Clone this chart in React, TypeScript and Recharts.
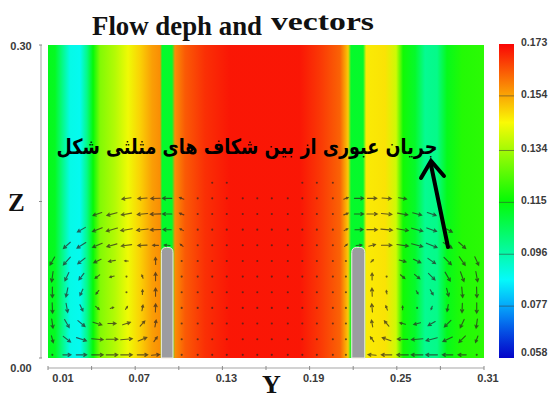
import React from 'react';
import {
  ScatterChart,
  Scatter,
  XAxis,
  YAxis,
  ReferenceArea,
  ReferenceLine,
  ComposedChart,
  Line,
} from 'recharts';

// ---------- axes ----------
const xTicks = [0.01, 0.04, 0.07, 0.1, 0.13, 0.16, 0.19, 0.22, 0.25, 0.28, 0.31];
const xTickLabels = [0.01, 0.07, 0.13, 0.19, 0.25, 0.31];
const zTicks = [0, 0.15, 0.3];
const zTickLabels = [0, 0.3];
const colorbarTicks = [0.058, 0.077, 0.096, 0.115, 0.134, 0.154, 0.173];

// ---------- flow depth profile across the channel (Y -> depth) ----------
const depthY = [
  0.01, 0.0148, 0.0196, 0.0251, 0.032, 0.0368, 0.041, 0.0458, 0.0561, 0.0651, 0.0733,
  0.0816, 0.0871, 0.0885, 0.0953, 0.0974, 0.1043, 0.1181, 0.1353, 0.1834, 0.1972,
  0.211, 0.2165, 0.2185, 0.2268, 0.2289, 0.2419, 0.2495, 0.2543, 0.2626, 0.2695,
  0.2777, 0.2846, 0.2949, 0.31,
];
const depthValue = [
  0.113, 0.112, 0.101, 0.089, 0.088, 0.1, 0.115, 0.13, 0.136, 0.143, 0.149,
  0.155, 0.157, 0.111, 0.111, 0.157, 0.163, 0.168, 0.171, 0.171, 0.167,
  0.162, 0.15, 0.111, 0.111, 0.146, 0.147, 0.139, 0.117, 0.111, 0.099,
  0.1, 0.113, 0.119, 0.12,
];

// ---------- obstacles ----------
const obstacleLeftY = [0.088, 0.096];
const obstacleRightY = [0.219, 0.228];
const obstacleTopZ = 0.106;

// ---------- velocity vectors: [angle deg (0 = +Y, 90 = +Z), magnitude] ----------
type Cell = [number, number] | 0;
const vectorRowsZ = [0.168, 0.153, 0.138, 0.123, 0.108, 0.093, 0.078, 0.063, 0.048, 0.033, 0.018, 0.003];

const leftColsY = [0.013, 0.023, 0.033, 0.044, 0.054, 0.064, 0.075, 0.084];
const leftVortex: Cell[][] = [
  [0, 0, 0, 0, 0, 0, 0, 0],
  [0, 0, 0, 0, 0, [188, 8], [185, 8], [182, 8]],
  [0, 0, 0, [200, 8], [195, 9], [190, 9], [186, 9], [182, 9]],
  [0, 0, [210, 8], [202, 9], [196, 10], [190, 10], [186, 10], [182, 9]],
  [0, [222, 8], [212, 9], [203, 9], [196, 9], [188, 9], [183, 8], [178, 5]],
  [[240, 8], [228, 9], [218, 8], [205, 7], [190, 6], [178, 3], 0, [92, 6]],
  [[262, 9], [245, 8], [232, 7], [218, 5], [195, 4], [160, 2], [110, 3], [90, 7]],
  [[270, 9], [258, 8], [245, 6], [232, 4], 0, [60, 2], [88, 4], [90, 7]],
  [[272, 9], [280, 8], [295, 6], [320, 4], [20, 3], [55, 3], [80, 5], [88, 7]],
  [[278, 8], [300, 8], [320, 8], [342, 8], [0, 7], [18, 7], [48, 6], [80, 6]],
  [[285, 6], [322, 8], [342, 9], [355, 10], [0, 10], [5, 10], [22, 8], [55, 5]],
  [[0, 2], [0, 7], [0, 9], [0, 10], [0, 10], [0, 10], [0, 9], [5, 7]],
];

const midColsY = [0.092, 0.102, 0.113, 0.123, 0.133, 0.144, 0.154, 0.164, 0.175, 0.185, 0.195, 0.206, 0.215, 0.224];
const midField: Cell[][] = [
  [0, 0, 0, [270, 1.2], [270, 1.2], 0, 0, 0, 0, [270, 1.2], [270, 1.2], [270, 1.2], 0, 0],
  [[180, 8], [160, 4], [170, 2.5], [200, 1.5], [270, 1.3], [270, 1.3], [270, 1.2], [270, 1.2], [270, 1.3], [270, 1.3], [340, 1.5], [10, 2.5], [20, 4], [0, 8]],
  [[180, 8], [158, 4], [168, 2.5], [200, 1.5], [270, 1.3], [270, 1.3], [270, 1.3], [270, 1.3], [270, 1.3], [270, 1.3], [340, 1.5], [12, 2.5], [22, 4], [0, 8]],
  [[178, 7], [152, 3.5], [200, 1.5], [270, 1.5], [270, 1.3], [270, 1.3], [270, 1.3], [270, 1.3], [270, 1.3], [270, 1.3], [270, 1.5], [340, 1.5], [28, 3.5], [2, 7]],
  [[175, 5], [140, 3], [270, 1.5], [270, 1.5], [270, 1.3], [270, 1.3], [270, 1.3], [270, 1.3], [270, 1.3], [270, 1.3], [270, 1.5], [270, 1.5], [40, 3], [5, 5]],
  [0, [110, 2], [270, 1.5], [270, 1.4], [270, 1.3], [270, 1.3], [270, 1.3], [270, 1.3], [270, 1.3], [270, 1.3], [270, 1.4], [270, 1.5], [70, 2], 0],
  [0, [90, 1.8], [270, 1.4], [270, 1.4], [270, 1.3], [270, 1.3], [270, 1.2], [270, 1.2], [270, 1.3], [270, 1.3], [270, 1.4], [270, 1.4], [90, 1.8], 0],
  [0, [90, 1.6], [270, 1.3], [270, 1.3], [270, 1.3], [270, 1.2], [270, 1.2], [270, 1.2], [270, 1.2], [270, 1.3], [270, 1.3], [270, 1.3], [90, 1.6], 0],
  [0, [90, 1.4], [270, 1.2], [270, 1.2], [270, 1.2], [270, 1.2], [270, 1.2], [270, 1.2], [270, 1.2], [270, 1.2], [270, 1.2], [270, 1.2], [90, 1.4], 0],
  [0, [90, 1.2], [270, 1.1], [270, 1.1], [270, 1.1], [270, 1.1], [270, 1.1], [270, 1.1], [270, 1.1], [270, 1.1], [270, 1.1], [270, 1.1], [90, 1.2], 0],
  [0, [90, 1.2], [270, 1.1], [270, 1.1], [270, 1.1], [270, 1.1], [270, 1.1], [270, 1.1], [270, 1.1], [270, 1.1], [270, 1.1], [270, 1.1], [90, 1.2], 0],
  [0, [0, 1.1], [0, 1], [0, 1], [0, 1], [0, 1], [0, 1], [0, 1], [0, 1], [0, 1], [0, 1], [0, 1], [0, 1.1], 0],
];

const rightColsY = [0.233, 0.243, 0.254, 0.264, 0.274, 0.285, 0.295, 0.305];
const rightVortex: Cell[][] = [
  [0, 0, 0, 0, 0, 0, 0, 0],
  [[0, 8], [355, 8], [350, 7], 0, 0, 0, 0, 0],
  [[0, 9], [355, 9], [350, 9], [345, 8], [340, 8], 0, 0, 0],
  [[0, 9], [355, 10], [350, 10], [345, 10], [340, 9], [332, 9], 0, 0],
  [[15, 6], [0, 9], [352, 10], [345, 10], [338, 10], [328, 9], [318, 8], 0],
  [[45, 3], 0, [345, 6], [335, 7], [325, 8], [315, 9], [305, 9], [295, 8]],
  [[90, 6], [30, 2], [320, 5], [320, 6], [315, 8], [300, 9], [290, 9], [280, 9]],
  [[92, 7], [100, 3], 0, [300, 3], [300, 5], [285, 7], [275, 9], [272, 9]],
  [[95, 7], [110, 4], [90, 3], [240, 2], [250, 3], [260, 6], [268, 8], [270, 9]],
  [[100, 6], [130, 6], [165, 5], [195, 6], [210, 7], [225, 8], [245, 8], [262, 8]],
  [[125, 5], [160, 8], [178, 9], [185, 10], [195, 10], [205, 9], [225, 8], [250, 6]],
  [[175, 7], [180, 9], [180, 10], [180, 10], [180, 10], [180, 9], [180, 7], [180, 2]],
];

// ---------- helpers ----------
const DEPTH_MIN = colorbarTicks[0];
const DEPTH_MAX = colorbarTicks[colorbarTicks.length - 1];

function colorOf(v: number) {
  const t = Math.max(0, Math.min(1, (v - DEPTH_MIN) / (DEPTH_MAX - DEPTH_MIN)));
  const h = 240 * (1 - t);
  const l = t < 0.15 ? 40 + t * 66 : 50;
  return `hsl(${h.toFixed(1)}, 96%, ${l.toFixed(1)}%)`;
}

function buildVectors(cols: number[], rows: Cell[][]) {
  const out: { y: number; z: number; a: number; m: number }[] = [];
  rows.forEach((row, i) =>
    row.forEach((cell, j) => {
      if (cell) out.push({ y: cols[j], z: vectorRowsZ[i], a: cell[0], m: cell[1] });
    })
  );
  return out;
}

const vectors = [
  ...buildVectors(leftColsY, leftVortex),
  ...buildVectors(midColsY, midField),
  ...buildVectors(rightColsY, rightVortex),
];

const ARROW_SCALE = 1.15;
const ARROW_COLOR = '#2b2320';

const VectorArrow = (props: any) => {
  const { cx, cy, payload } = props;
  if (cx == null || cy == null || !payload) return <g />;
  const len = payload.m * ARROW_SCALE;
  const rad = (payload.a * Math.PI) / 180;
  const dx = Math.cos(rad) * len;
  const dy = -Math.sin(rad) * len;
  if (len < 3) {
    return <circle cx={cx} cy={cy} r={1.05} fill={ARROW_COLOR} fillOpacity={0.7} />;
  }
  const x1 = cx - dx / 2;
  const y1 = cy - dy / 2;
  const x2 = cx + dx / 2;
  const y2 = cy + dy / 2;
  const th = Math.atan2(dy, dx) + Math.PI;
  const h = Math.min(3.2, len * 0.4);
  const a1x = x2 + Math.cos(th - 0.5) * h;
  const a1y = y2 + Math.sin(th - 0.5) * h;
  const a2x = x2 + Math.cos(th + 0.5) * h;
  const a2y = y2 + Math.sin(th + 0.5) * h;
  return (
    <path
      d={`M${x1},${y1}L${x2},${y2}M${a1x},${a1y}L${x2},${y2}L${a2x},${a2y}`}
      stroke={ARROW_COLOR}
      strokeOpacity={0.72}
      strokeWidth={1.1}
      fill="none"
      strokeLinecap="round"
    />
  );
};

const ObstacleShape = (p: any) => {
  const { x, y, width, height } = p;
  if (x == null) return <g />;
  const r = Math.min(5, width / 2);
  const d = `M${x},${y + height}L${x},${y + r}Q${x},${y} ${x + r},${y}L${x + width - r},${y}Q${x + width},${y} ${x + width},${y + r}L${x + width},${y + height}Z`;
  return <path d={d} fill="#9c9ca0" stroke="#f3ece0" strokeWidth={1} />;
};

const near = (a: number, b: number) => Math.abs(a - b) < 1e-6;

const XTick = (p: any) => {
  const v = p.payload?.value;
  if (!xTickLabels.some((t) => near(t, v))) return <g />;
  const shift = near(v, xTickLabels[0]) ? 15 : 4;
  return (
    <text
      x={p.x + shift}
      y={382}
      textAnchor="middle"
      fontFamily="'Liberation Sans', Arial, sans-serif"
      fontWeight="bold"
      fontSize={11}
      fill="#3a3a3a"
    >
      {v.toFixed(2)}
    </text>
  );
};

const ZTick = (p: any) => {
  const v = p.payload?.value;
  if (!zTickLabels.some((t) => near(t, v))) return <g />;
  const yy = near(v, 0) ? p.y + 10 : p.y + 1;
  return (
    <text
      x={21}
      y={yy + 4}
      textAnchor="middle"
      fontFamily="'Liberation Sans', Arial, sans-serif"
      fontWeight="bold"
      fontSize={11}
      fill="#3a3a3a"
    >
      {v.toFixed(2)}
    </text>
  );
};

const CbTick = (p: any) => {
  const v = p.payload?.value;
  const last = near(v, colorbarTicks[0]);
  return (
    <text
      x={p.x}
      y={p.y + 3 + (last ? -5 : -1)}
      textAnchor="start"
      fontFamily="'Liberation Sans', Arial, sans-serif"
      fontWeight="bold"
      fontSize={10.5}
      fill="#3a3a3a"
    >
      {v.toFixed(3)}
    </text>
  );
};

const colorbarData = colorbarTicks.map((v) => ({ x: 0.5, v }));
const colorbarStops = Array.from({ length: 25 }, (_, i) => i / 24);

export default function App() {
  return (
    <div
      style={{
        position: 'absolute',
        left: 0,
        top: 0,
        width: 554,
        height: 398,
        background: '#ffffff',
        overflow: 'hidden',
      }}
    >
      <div style={{ position: 'absolute', left: 0, top: 0 }}>
        <ScatterChart width={554} height={398} margin={{ top: 45, right: 70, bottom: 10, left: 8 }}>
          <defs>
            <linearGradient id="fieldGrad" x1="0" y1="0" x2="1" y2="0">
              {depthY.map((y, i) => (
                <stop key={i} offset={(y - 0.01) / 0.3} stopColor={colorOf(depthValue[i])} />
              ))}
            </linearGradient>
          </defs>
          <XAxis
            type="number"
            dataKey="y"
            domain={[0.01, 0.31]}
            ticks={xTicks}
            interval={0}
            allowDataOverflow
            height={30}
            tickSize={4}
            axisLine={{ stroke: '#a5a5a5', transform: 'translate(0,10)' }}
            tickLine={{ stroke: '#8a8a8a', transform: 'translate(0,8)' }}
            tick={(p: any) => <XTick {...p} />}
          />
          <YAxis
            type="number"
            dataKey="z"
            domain={[0, 0.3]}
            ticks={zTicks}
            interval={0}
            allowDataOverflow
            width={40}
            tickSize={3}
            axisLine={{ stroke: '#a5a5a5', transform: 'translate(-7,0)' }}
            tickLine={{ stroke: '#8a8a8a', transform: 'translate(-6,0)' }}
            tick={(p: any) => <ZTick {...p} />}
          />
          <ReferenceArea
            x1={0.01}
            x2={0.31}
            y1={0}
            y2={0.3}
            fill="url(#fieldGrad)"
            fillOpacity={1}
            stroke="none"
            ifOverflow="visible"
          />
          <ReferenceArea
            x1={obstacleLeftY[0]}
            x2={obstacleLeftY[1]}
            y1={0}
            y2={obstacleTopZ}
            shape={ObstacleShape}
            ifOverflow="visible"
          />
          <ReferenceArea
            x1={obstacleRightY[0]}
            x2={obstacleRightY[1]}
            y1={0}
            y2={obstacleTopZ}
            shape={ObstacleShape}
            ifOverflow="visible"
          />
          <Scatter data={vectors} shape={VectorArrow} isAnimationActive={false} />
        </ScatterChart>
      </div>

      <div style={{ position: 'absolute', left: 474, top: 0 }}>
        <ComposedChart width={80} height={398} data={colorbarData} margin={{ top: 44, right: 0, bottom: 40, left: 25 }}>
          <defs>
            <linearGradient id="cbGrad" x1="0" y1="1" x2="0" y2="0">
              {colorbarStops.map((t, i) => (
                <stop key={i} offset={t} stopColor={colorOf(DEPTH_MIN + t * (DEPTH_MAX - DEPTH_MIN))} />
              ))}
            </linearGradient>
          </defs>
          <XAxis type="number" dataKey="x" domain={[0, 1]} hide />
          <YAxis
            type="number"
            orientation="right"
            domain={[DEPTH_MIN, DEPTH_MAX]}
            ticks={colorbarTicks}
            interval={0}
            width={40}
            axisLine={false}
            tickLine={false}
            tickSize={0}
            tickMargin={7}
            tick={(p: any) => <CbTick {...p} />}
          />
          <ReferenceArea
            x1={0}
            x2={1}
            y1={DEPTH_MIN}
            y2={DEPTH_MAX}
            fill="url(#cbGrad)"
            fillOpacity={1}
            stroke="none"
          />
          {colorbarTicks.slice(1, -1).map((v) => (
            <ReferenceLine key={v} y={v} stroke="#3a3a3a" strokeOpacity={0.55} />
          ))}
          <Line dataKey="v" stroke="none" dot={false} activeDot={false} isAnimationActive={false} />
        </ComposedChart>
      </div>

      <svg
        width={554}
        height={398}
        style={{ position: 'absolute', left: 0, top: 0, pointerEvents: 'none' }}
      >
        <text
          x={92}
          y={35}
          fontFamily="'Liberation Serif', 'Times New Roman', serif"
          fontWeight="bold"
          fontSize={27}
          textLength={170}
          lengthAdjust="spacingAndGlyphs"
          fill="#111"
        >
          Flow deph and
        </text>
        <text
          x={271}
          y={30}
          fontFamily="'Liberation Serif', 'Times New Roman', serif"
          fontWeight="bold"
          fontSize={25}
          textLength={103}
          lengthAdjust="spacingAndGlyphs"
          fill="#111"
        >
          vectors
        </text>
        <text
          x={8}
          y={211}
          fontFamily="'Liberation Serif', 'Times New Roman', serif"
          fontWeight="bold"
          fontSize={25}
          fill="#111"
        >
          Z
        </text>
        <text
          x={262}
          y={393}
          fontFamily="'Liberation Serif', 'Times New Roman', serif"
          fontWeight="bold"
          fontSize={26}
          fill="#111"
        >
          Y
        </text>
        <text
          x={247}
          y={154}
          textAnchor="middle"
          fontFamily="'DejaVu Sans', 'Noto Sans', sans-serif"
          fontWeight="bold"
          fontSize={21}
          textLength={381}
          lengthAdjust="spacingAndGlyphs"
          fill="#000"
        >
          جریان عبوری از بین شکاف های مثلثی شکل
        </text>
        <path d="M448,247L431,165" stroke="#000" strokeWidth={4} fill="none" strokeLinecap="round" />
        <path
          d="M421,178L431,161L444,176"
          stroke="#000"
          strokeWidth={4}
          fill="none"
          strokeLinecap="round"
          strokeLinejoin="miter"
        />
      </svg>
    </div>
  );
}
